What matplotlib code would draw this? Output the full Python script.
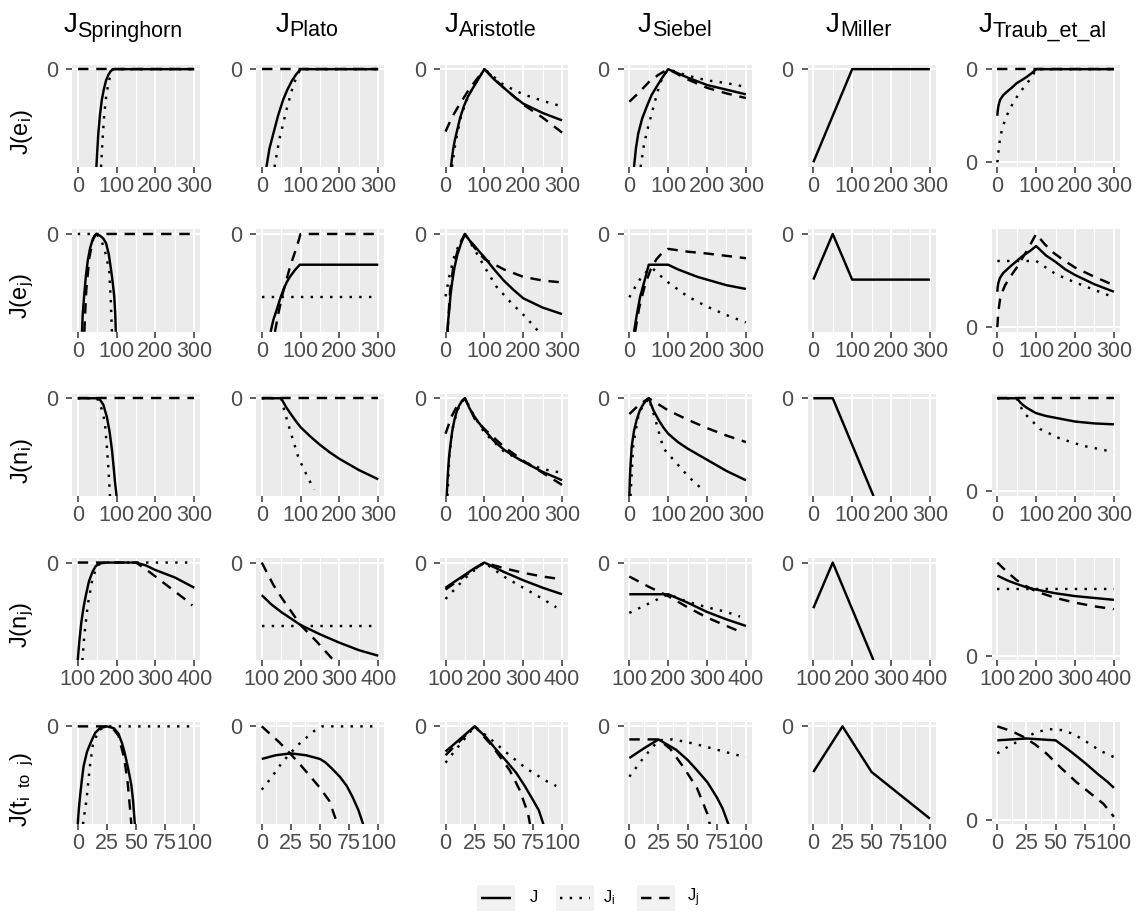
import matplotlib
matplotlib.use("Agg")
import matplotlib.pyplot as plt
from matplotlib.patches import Rectangle
from matplotlib.lines import Line2D

plt.rcParams['font.family'] = ['Liberation Sans', 'DejaVu Sans']
plt.rcParams['mathtext.fontset'] = 'custom'
plt.rcParams['mathtext.rm'] = 'Liberation Sans'
plt.rcParams['mathtext.it'] = 'Liberation Sans'

# ---------------- data (y is relative: 0 = the "0" break, -1 = lower end of the shown range) ----
columns = ["Springhorn", "Plato", "Aristotle", "Siebel", "Miller", "Traub_et_al"]
row_labels = [r"$\mathregular{J(e_i)}$", r"$\mathregular{J(e_j)}$", r"$\mathregular{J(n_i)}$",
              r"$\mathregular{J(n_j)}$", r"$\mathregular{J(t_{i\ \ to\ \ j})}$"]
row_x_ranges = [(0, 300), (0, 300), (0, 300), (100, 400), (0, 100)]
row_x_ticks = [[0, 100, 200, 300], [0, 100, 200, 300], [0, 100, 200, 300],
               [100, 200, 300, 400], [0, 25, 50, 75, 100]]
row_x_minor = [[50, 150, 250], [50, 150, 250], [50, 150, 250],
               [150, 250, 350], [12.5, 37.5, 62.5, 87.5]]
traub_y_ticks = [[-1, 0], [-1], [-1], [-1], [-1]]
y_tick_label = "0"
series = ["J", "Ji", "Jj"]
legend_labels = ["J", r"$\mathregular{J_i}$", r"$\mathregular{J_j}$"]

# row 1: J(e_i)
springhorn_ei = {"J": ([48, 50, 53, 57, 62, 67, 73, 79, 85, 92, 300],
                       [-1.05, -0.9, -0.69, -0.5, -0.33, -0.22, -0.12, -0.06, -0.02, 0, 0]),
                 "Ji": ([60, 64, 68, 73, 79, 85, 90, 300], [-1.05, -0.75, -0.5, -0.3, -0.15, -0.05, 0, 0]),
                 "Jj": ([0, 300], [0, 0])}
plato_ei = {"J": ([12, 20, 30, 42, 55, 66, 77, 88, 100, 300],
                  [-1.05, -0.85, -0.69, -0.5, -0.33, -0.22, -0.13, -0.06, 0, 0]),
            "Ji": ([33, 45, 64, 80, 90, 100, 300], [-1.05, -0.76, -0.43, -0.19, -0.08, 0, 0]),
            "Jj": ([0, 300], [0, 0])}
aristotle_ei = {"J": ([14, 17, 20, 24, 28, 37, 47, 57, 68, 84, 100, 125, 150, 175, 200, 250, 300],
                      [-1.05, -0.94, -0.85, -0.76, -0.69, -0.53, -0.40, -0.3, -0.22, -0.11, 0,
                       -0.11, -0.2, -0.29, -0.37, -0.47, -0.55]),
                "Ji": ([17, 25, 40, 60, 100, 150, 200, 250, 300],
                       [-1.05, -0.8, -0.5, -0.27, 0, -0.17, -0.27, -0.34, -0.40]),
                "Jj": ([0, 15, 30, 60, 100, 150, 200, 250, 300],
                       [-0.67, -0.53, -0.42, -0.22, 0, -0.2, -0.38, -0.52, -0.68])}
siebel_ei = {"J": ([12, 17, 23, 33, 45, 57, 70, 85, 100, 150, 200, 250, 300],
                   [-1.05, -0.85, -0.69, -0.53, -0.40, -0.28, -0.19, -0.09, 0, -0.09, -0.17, -0.22, -0.27]),
             "Ji": ([29, 38, 49, 67, 79, 90, 100, 150, 200, 250, 300],
                    [-1.05, -0.8, -0.61, -0.33, -0.15, -0.06, 0, -0.07, -0.12, -0.15, -0.19]),
             "Jj": ([0, 25, 50, 75, 100, 150, 200, 250, 300],
                    [-0.35, -0.25, -0.14, -0.06, 0, -0.11, -0.2, -0.26, -0.31])}
miller_ei = {"J": ([0, 100, 300], [-1.0, 0, 0])}
traub_ei = {"J": ([0, 1, 3, 7, 15, 24, 37, 50, 62, 75, 88, 100, 300],
                  [-0.5, -0.45, -0.39, -0.33, -0.28, -0.245, -0.2, -0.15, -0.12, -0.085, -0.045, 0, 0]),
            "Ji": ([0, 3.4, 6.9, 13.7, 24, 37, 50, 67, 88, 100, 300],
                   [-1.0, -0.87, -0.74, -0.62, -0.5, -0.39, -0.3, -0.2, -0.09, 0, 0]),
            "Jj": ([0, 300], [0, 0])}

# row 2: J(e_j)
springhorn_ej = {"J": ([11, 13, 17, 21, 26, 32, 38, 43, 48, 58, 66, 73, 80, 86, 90, 94, 96.5, 98],
                       [-1.05, -0.85, -0.64, -0.45, -0.28, -0.15, -0.065, -0.02, 0, -0.02, -0.05, -0.1,
                        -0.22, -0.39, -0.52, -0.67, -0.85, -1.05]),
                 "Ji": ([0, 48, 60, 70, 81, 85, 88], [0, 0, -0.06, -0.18, -0.39, -0.7, -1.05]),
                 "Jj": ([17, 22, 30, 40, 48, 300], [-1.05, -0.6, -0.25, -0.05, 0, 0])}
plato_ej = {"J": ([23, 30, 38.5, 47, 55.6, 64, 72.6, 85, 98, 300],
                  [-1.05, -0.92, -0.815, -0.7, -0.6, -0.52, -0.46, -0.39, -0.33, -0.33]),
            "Ji": ([0, 300], [-0.68, -0.68]),
            "Jj": ([34, 43, 54, 73, 90, 100, 300], [-1.05, -0.85, -0.64, -0.35, -0.14, 0, 0])}
aristotle_ej = {"J": ([5, 7, 10, 13, 17, 23, 30, 40, 50, 62, 75, 87, 100, 125, 150, 175, 200, 250, 300],
                      [-1.05, -0.92, -0.8, -0.65, -0.52, -0.36, -0.23, -0.1, 0, -0.07, -0.13, -0.19, -0.25,
                       -0.38, -0.5, -0.6, -0.69, -0.79, -0.86]),
                "Ji": ([0, 10, 25, 50, 75, 100, 130, 167, 206, 240],
                       [-0.67, -0.45, -0.2, 0, -0.17, -0.35, -0.56, -0.73, -0.89, -1.05]),
                "Jj": ([5, 12, 20, 35, 50, 75, 100, 150, 200, 250, 300],
                       [-1.05, -0.6, -0.35, -0.12, 0, -0.15, -0.27, -0.38, -0.46, -0.5, -0.52])}
siebel_ej = {"J": ([12, 20, 28, 40, 50, 100, 125, 150, 175, 200, 250, 300],
                   [-1.05, -0.85, -0.67, -0.49, -0.33, -0.33, -0.38, -0.42, -0.46, -0.49, -0.55, -0.59]),
             "Ji": ([0, 15, 30, 50, 60, 75, 100, 150, 200, 250, 300],
                    [-0.68, -0.57, -0.47, -0.38, -0.37, -0.43, -0.52, -0.67, -0.78, -0.87, -0.95]),
             "Jj": ([15, 25, 40, 55, 70, 85, 100, 150, 200, 300],
                    [-1.05, -0.8, -0.55, -0.38, -0.27, -0.2, -0.16, -0.19, -0.21, -0.26])}
miller_ej = {"J": ([0, 50, 100, 300], [-0.49, 0, -0.49, -0.49])}
traub_ej = {"J": ([0, 1, 3, 7, 15, 33, 50, 67, 85, 100, 125, 150, 175, 200, 250, 300],
                  [-0.62, -0.57, -0.52, -0.47, -0.42, -0.35, -0.29, -0.23, -0.18, -0.13, -0.23, -0.3,
                   -0.38, -0.44, -0.54, -0.62]),
            "Ji": ([0, 100, 150, 200, 250, 300], [-0.29, -0.29, -0.43, -0.52, -0.6, -0.68]),
            "Jj": ([0, 1.5, 3, 7, 13, 20, 35, 50, 63, 76, 88, 100, 122, 144, 170, 200, 250, 300],
                   [-1.0, -0.9, -0.82, -0.7, -0.62, -0.55, -0.45, -0.36, -0.27, -0.18, -0.09, 0, -0.11,
                    -0.2, -0.28, -0.36, -0.46, -0.55])}

# row 3: J(n_i)
springhorn_ni = {"J": ([0, 50, 58, 66, 75, 82, 88, 92, 96, 100],
                       [0, 0, -0.02, -0.07, -0.2, -0.36, -0.55, -0.72, -0.9, -1.05]),
                 "Ji": ([0, 50, 62, 70, 75, 79, 83], [0, 0, -0.12, -0.26, -0.52, -0.75, -1.05]),
                 "Jj": ([0, 300], [0, 0])}
plato_ni = {"J": ([0, 50, 62, 75, 87, 100, 125, 150, 175, 200, 250, 300],
                  [0, 0, -0.09, -0.17, -0.24, -0.31, -0.41, -0.5, -0.58, -0.65, -0.77, -0.87]),
            "Ji": ([0, 50, 60, 77, 94, 107, 120, 135], [0, 0, -0.16, -0.4, -0.63, -0.75, -0.86, -0.98]),
            "Jj": ([0, 300], [0, 0])}
aristotle_ni = {"J": ([3, 5, 7, 9, 12, 17, 23, 29, 35, 42, 50, 62, 75, 87, 100, 125, 150, 175, 200, 250, 300],
                      [-1.05, -0.88, -0.75, -0.63, -0.52, -0.36, -0.23, -0.14, -0.08, -0.03, 0, -0.11, -0.2,
                       -0.27, -0.34, -0.46, -0.55, -0.62, -0.68, -0.79, -0.88]),
                "Ji": ([5, 10, 20, 35, 50, 75, 100, 150, 200, 250, 300],
                       [-1.05, -0.6, -0.28, -0.08, 0, -0.2, -0.37, -0.57, -0.68, -0.76, -0.8]),
                "Jj": ([0, 15, 30, 50, 75, 100, 150, 200, 250, 300],
                       [-0.38, -0.2, -0.08, 0, -0.22, -0.33, -0.52, -0.67, -0.8, -0.93])}
siebel_ni = {"J": ([0, 1.5, 3, 6, 12, 19, 27, 35, 42, 50, 62, 75, 87, 100, 125, 150, 175, 200, 250, 300],
                   [-1.05, -0.85, -0.72, -0.52, -0.35, -0.23, -0.13, -0.07, -0.03, 0, -0.13, -0.23, -0.31,
                    -0.38, -0.47, -0.54, -0.6, -0.66, -0.78, -0.88]),
             "Ji": ([3, 10, 25, 50, 65, 88, 118, 152, 175, 195],
                    [-1.05, -0.5, -0.15, 0, -0.2, -0.54, -0.68, -0.84, -0.93, -1.0]),
             "Jj": ([0, 25, 50, 100, 150, 200, 250, 300],
                    [-0.17, -0.07, 0, -0.13, -0.23, -0.32, -0.4, -0.47])}
miller_ni = {"J": ([0, 50, 155], [0, 0, -1.05])}
traub_ni = {"J": ([0, 50, 55, 60, 67, 75, 87, 100, 125, 150, 200, 250, 300],
                  [0, 0, -0.025, -0.05, -0.075, -0.1, -0.13, -0.16, -0.19, -0.21, -0.25, -0.27, -0.28]),
            "Ji": ([0, 50, 67, 110, 160, 220, 280, 300], [0, 0, -0.15, -0.33, -0.43, -0.51, -0.56, -0.57]),
            "Jj": ([0, 300], [0, 0])}

# row 4: J(n_j)
springhorn_nj = {"J": ([100, 104, 109, 115, 121, 129, 138, 146, 155, 175, 250, 275, 300, 350, 400],
                       [-1.05, -0.85, -0.65, -0.48, -0.35, -0.2, -0.1, -0.04, -0.01, 0, 0, -0.03, -0.08,
                        -0.16, -0.27]),
                 "Ji": ([112, 117, 126, 138, 151, 165, 400], [-1.05, -0.78, -0.45, -0.17, -0.03, 0, 0]),
                 "Jj": ([100, 250, 275, 300, 325, 350, 375, 395], [0, 0, -0.07, -0.15, -0.23, -0.31, -0.39, -0.46])}
plato_nj = {"J": ([100, 125, 150, 200, 250, 300, 350, 400], [-0.35, -0.45, -0.53, -0.67, -0.77, -0.86, -0.94, -1.0]),
            "Ji": ([100, 400], [-0.68, -0.68]),
            "Jj": ([100, 115, 130, 150, 175, 200, 242, 285], [0, -0.12, -0.24, -0.37, -0.52, -0.67, -0.85, -1.05])}
aristotle_nj = {"J": ([100, 125, 150, 175, 200, 250, 300, 350, 400],
                      [-0.27, -0.2, -0.13, -0.06, 0, -0.1, -0.19, -0.27, -0.34]),
                "Ji": ([100, 125, 150, 175, 200, 250, 300, 350, 385],
                       [-0.39, -0.28, -0.17, -0.08, 0, -0.15, -0.27, -0.39, -0.48]),
                "Jj": ([100, 150, 200, 250, 300, 350, 400], [-0.29, -0.14, 0, -0.06, -0.11, -0.15, -0.18])}
siebel_nj = {"J": ([100, 200, 250, 300, 350, 400], [-0.34, -0.34, -0.43, -0.53, -0.61, -0.68]),
             "Ji": ([100, 130, 160, 200, 250, 300, 350, 385], [-0.54, -0.48, -0.42, -0.34, -0.42, -0.48, -0.53, -0.58]),
             "Jj": ([100, 150, 200, 250, 300, 350, 390], [-0.15, -0.26, -0.36, -0.48, -0.59, -0.68, -0.75])}
miller_nj = {"J": ([100, 150, 255], [-0.49, 0, -1.05])}
traub_nj = {"J": ([100, 125, 150, 175, 200, 250, 300, 350, 400],
                  [-0.14, -0.19, -0.23, -0.265, -0.29, -0.33, -0.36, -0.38, -0.4]),
            "Ji": ([100, 400], [-0.28, -0.28]),
            "Jj": ([100, 125, 150, 175, 200, 250, 300, 350, 400], [0, -0.1, -0.19, -0.255, -0.31, -0.38, -0.43, -0.47, -0.5])}

# row 5: J(t_i to j)
springhorn_t = {"J": ([0, 1, 2, 3.5, 5, 8, 12, 15, 19, 25, 31, 35, 38, 40, 42, 44, 46, 47.5, 49],
                      [-1.05, -0.88, -0.75, -0.58, -0.43, -0.27, -0.15, -0.07, -0.02, 0, -0.02, -0.08,
                       -0.18, -0.27, -0.38, -0.5, -0.63, -0.8, -1.05]),
                "Ji": ([4.5, 7.5, 10.4, 13, 18, 25, 100], [-1.05, -0.79, -0.43, -0.2, -0.04, 0, 0]),
                "Jj": ([0, 25, 30, 35, 40, 43, 45, 46], [0, 0, -0.02, -0.1, -0.35, -0.62, -0.9, -1.05])}
plato_t = {"J": ([0, 12, 25, 38, 50, 55, 60, 67, 73, 78, 83, 87],
                 [-0.35, -0.31, -0.29, -0.31, -0.35, -0.39, -0.45, -0.54, -0.64, -0.76, -0.9, -1.05]),
           "Ji": ([0, 7, 18, 31, 45, 52, 100], [-0.68, -0.57, -0.38, -0.2, -0.05, 0, 0]),
           "Jj": ([0, 15, 25, 33, 50, 58, 65], [0, -0.17, -0.3, -0.41, -0.66, -0.8, -1.05])}
aristotle_t = {"J": ([0, 25, 35, 43.5, 52, 60.7, 68, 75, 80, 84],
                     [-0.27, 0, -0.12, -0.25, -0.37, -0.5, -0.64, -0.79, -0.9, -1.05]),
               "Ji": ([0, 12, 25, 40, 54, 69, 87, 95], [-0.39, -0.2, 0, -0.15, -0.3, -0.45, -0.59, -0.64]),
               "Jj": ([0, 25, 40, 55, 63.5, 70.7, 72.5], [-0.31, 0, -0.21, -0.47, -0.68, -0.93, -1.05])}
siebel_t = {"J": ([0, 12, 25, 40, 50, 58, 67, 75, 80, 85],
                  [-0.34, -0.24, -0.14, -0.25, -0.36, -0.47, -0.6, -0.76, -0.88, -1.05]),
            "Ji": ([0, 12, 25, 37, 50, 63, 75, 90, 100], [-0.54, -0.34, -0.15, -0.14, -0.17, -0.21, -0.25, -0.3, -0.33]),
            "Jj": ([0, 25, 35, 46, 58, 67, 69], [-0.14, -0.14, -0.24, -0.43, -0.66, -0.94, -1.05])}
miller_t = {"J": ([0, 25, 50, 100], [-0.49, 0, -0.49, -0.99])}
traub_t = {"J": ([0, 25, 50, 62, 75, 87, 95, 100], [-0.15, -0.13, -0.15, -0.26, -0.39, -0.52, -0.6, -0.66]),
           "Ji": ([0, 9, 24, 34, 45, 55, 65, 77, 88, 100],
                  [-0.29, -0.22, -0.12, -0.06, -0.03, -0.04, -0.08, -0.17, -0.26, -0.33]),
           "Jj": ([0, 12, 22, 32, 42, 55, 68, 80, 91, 100],
                  [0, -0.05, -0.11, -0.19, -0.29, -0.45, -0.6, -0.72, -0.83, -0.97])}

panels = [
    [springhorn_ei, plato_ei, aristotle_ei, siebel_ei, miller_ei, traub_ei],
    [springhorn_ej, plato_ej, aristotle_ej, siebel_ej, miller_ej, traub_ej],
    [springhorn_ni, plato_ni, aristotle_ni, siebel_ni, miller_ni, traub_ni],
    [springhorn_nj, plato_nj, aristotle_nj, siebel_nj, miller_nj, traub_nj],
    [springhorn_t, plato_t, aristotle_t, siebel_t, miller_t, traub_t],
]

# ---------------- styling ----------------
W, H = 1136, 915
fig = plt.figure(figsize=(W / 100, H / 100), dpi=100)
fig.patch.set_facecolor("white")

col_left_px = [71.9, 255.9, 439.7, 623.5, 807.5, 991.5]
row_top_px = [64.5, 229.3, 393.6, 557.9, 721.7]
pw, ph = 128.2, 102.5
LW = 1.75
styles = {"J": dict(linestyle="-"),
          "Ji": dict(linestyle=(0, (1, 3))),
          "Jj": dict(linestyle=(0, (4.3, 3.2)))}

for r in range(5):
    for c in range(6):
        ax = fig.add_axes([col_left_px[c] / W, (H - row_top_px[r] - ph) / H, pw / W, ph / H])
        ax.set_facecolor("#EBEBEB")
        for s in ax.spines.values():
            s.set_visible(False)
        x0, x1 = row_x_ranges[r]
        span = x1 - x0
        ax.set_xlim(x0 - 0.05 * span, x1 + 0.05 * span)
        ax.set_ylim(-1.05, 0.05)
        ax.set_xticks(row_x_ticks[r])
        ax.set_xticklabels([str(t) for t in row_x_ticks[r]])
        ax.set_xticks(row_x_minor[r], minor=True)
        yt = traub_y_ticks[r] if c == 5 else [0]
        ax.set_yticks(yt)
        ax.set_yticklabels([y_tick_label] * len(yt))
        ax.grid(True, which="major", color="white", linewidth=1.5)
        ax.grid(True, which="minor", axis="x", color="white", linewidth=0.75)
        ax.set_axisbelow(True)
        ax.tick_params(which="major", direction="out", length=4, width=1.1, color="#333333",
                       labelcolor="#4D4D4D", labelsize=15.5)
        ax.tick_params(axis="x", which="major", pad=2.5)
        ax.tick_params(axis="y", which="major", pad=6)
        ax.tick_params(which="minor", length=0)
        d = panels[r][c]
        for key in series:
            if key in d:
                xs, ys = d[key]
                ax.plot(xs, ys, color="black", linewidth=LW, solid_capstyle="butt",
                        dash_capstyle="butt", solid_joinstyle="round", **styles[key])

# column titles: large "J" with a subscript name, centred over panel + y-axis area
renderer = fig.canvas.get_renderer()
for c, name in enumerate(columns):
    tj = fig.text(0, 1 - 31.5 / H, "J", ha="left", va="baseline", fontsize=20, color="black")
    ts = fig.text(0, 1 - 36.5 / H, name, ha="left", va="baseline", fontsize=15.5, color="black")
    wj = tj.get_window_extent(renderer).width
    ws = ts.get_window_extent(renderer).width
    cx = col_left_px[c] + pw / 2 - 13
    left = cx - (wj + ws) / 2
    tj.set_x(left / W)
    ts.set_x((left + wj) / W)

# row labels (centred on panel plus x-axis labels)
for r, lab in enumerate(row_labels):
    fig.text(22 / W, 1 - (row_top_px[r] + ph / 2 + 16) / H, lab, rotation=90,
             ha="center", va="center", fontsize=17, color="black")

# legend (bottom)
key_left_px = [477, 556, 637]
label_left_px = [530, 603, 687]
key_w, key_h = 38, 26
key_cy = 898
for i, key in enumerate(series):
    fig.add_artist(Rectangle((key_left_px[i] / W, 1 - (key_cy + key_h / 2) / H), key_w / W, key_h / H,
                             transform=fig.transFigure, facecolor="#F2F2F2", edgecolor="none"))
    fig.add_artist(Line2D([(key_left_px[i] + 4) / W, (key_left_px[i] + key_w - 4) / W],
                          [1 - key_cy / H, 1 - key_cy / H], transform=fig.transFigure,
                          color="black", linewidth=LW, solid_capstyle="butt", dash_capstyle="butt",
                          **styles[key]))
    fig.text(label_left_px[i] / W, 1 - key_cy / H, legend_labels[i], ha="left", va="center",
             fontsize=12, color="black")

fig.savefig("out.png", dpi=100, facecolor="white")
